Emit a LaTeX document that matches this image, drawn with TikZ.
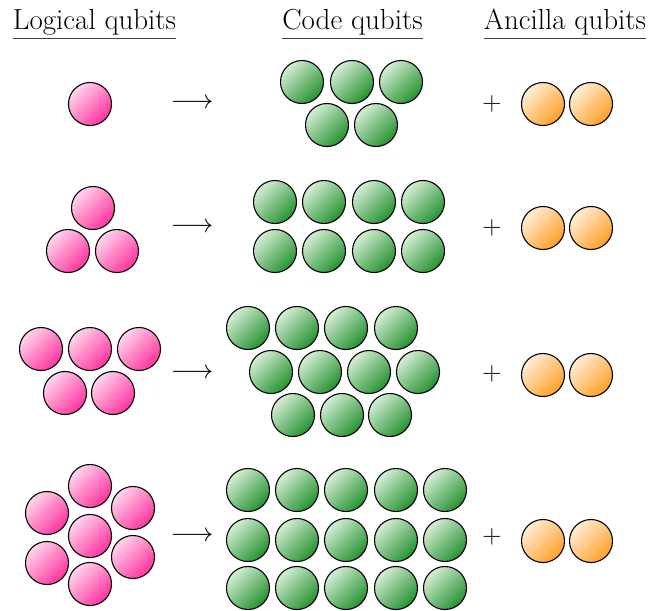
\documentclass[tikz,border=0pt]{standalone}
\usepackage{fix-cm}
\usepackage{fontspec}
\definecolor{pinkL}{RGB}{255,214,236}
\definecolor{pinkD}{RGB}{255,50,158}
\definecolor{greenL}{RGB}{214,238,214}
\definecolor{greenD}{RGB}{36,146,48}
\definecolor{orangeL}{RGB}{255,238,214}
\definecolor{orangeD}{RGB}{255,160,40}
\tikzset{
  qb/.style={circle,draw=black,line width=1.1pt,minimum size=43pt,inner sep=0pt},
  logq/.style={qb,top color=pinkL,bottom color=pinkD,shading angle=45},
  codeq/.style={qb,top color=greenL,bottom color=greenD,shading angle=45},
  ancq/.style={qb,top color=orangeL,bottom color=orangeD,shading angle=45},
  head/.style={inner sep=0pt,anchor=base,font=\fontsize{29}{35}\selectfont},
  sym/.style={inner sep=0pt,font=\fontsize{26.5}{32}\selectfont},
  uline/.style={draw=black!75,line width=0.9pt}
}
\begin{document}
\begin{tikzpicture}[x=1pt,y=-1pt]
\useasboundingbox (0,0) rectangle (662,611);
% headers
\node[head] (h1) at (94.5,29) {Logical qubits};
\node[head] (h2) at (352.5,29) {Code qubits};
\node[head] (h3) at (565,29) {Ancilla qubits};
\foreach \h in {h1,h2,h3}{
  \draw[uline] ([yshift=-9pt]\h.base west) -- ([yshift=-9pt]\h.base east);
}
% row 1
\node[logq] (l1a) at (90,104) {};
\foreach \x/\y [count=\i] in {302/82,352/82,401/82,327/125,376/125}
  \node[codeq] (c1-\i) at (\x,\y) {};
\node[sym] (ar1) at (192,104) {$\longrightarrow$};
\node[sym] (pl1) at (492,104) {$+$};
\node[ancq] (a1-1) at (543,104) {};
\node[ancq] (a1-2) at (591,104) {};
% row 2
\foreach \x/\y [count=\i] in {93/208,68/251,117/251}
  \node[logq] (l2-\i) at (\x,\y) {};
\foreach \x/\y [count=\i] in {275/202,324/202,374/202,423/202,275/251,324/251,374/251,423/251}
  \node[codeq] (c2-\i) at (\x,\y) {};
\node[sym] (ar2) at (192,228) {$\longrightarrow$};
\node[sym] (pl2) at (492,228) {$+$};
\node[ancq] (a2-1) at (543,228) {};
\node[ancq] (a2-2) at (591,228) {};
% row 3
\foreach \x/\y [count=\i] in {41/349,90/349,139/349,65/393,113/393}
  \node[logq] (l3-\i) at (\x,\y) {};
\foreach \x/\y [count=\i] in {248/328,297/328,346/328,396/328,271/372,320/372,369/372,418/372,293/415,342/415,390/415}
  \node[codeq] (c3-\i) at (\x,\y) {};
\node[sym] (ar3) at (192,374) {$\longrightarrow$};
\node[sym] (pl3) at (492,374) {$+$};
\node[ancq] (a3-1) at (543,375) {};
\node[ancq] (a3-2) at (591,375) {};
% row 4
\foreach \x/\y [count=\i] in {90/536,90/486,133/508,133/557,90/584,47/563,47/513}
  \node[logq] (l4-\i) at (\x,\y) {};
\foreach \y [count=\j] in {490,540,588}{
  \foreach \x [count=\i] in {248,297,346,396,445}
    \node[codeq] (c4-\j-\i) at (\x,\y) {};
}
\node[sym] (ar4) at (192,537) {$\longrightarrow$};
\node[sym] (pl4) at (492,537) {$+$};
\node[ancq] (a4-1) at (543,541) {};
\node[ancq] (a4-2) at (591,541) {};
\end{tikzpicture}
\end{document}
